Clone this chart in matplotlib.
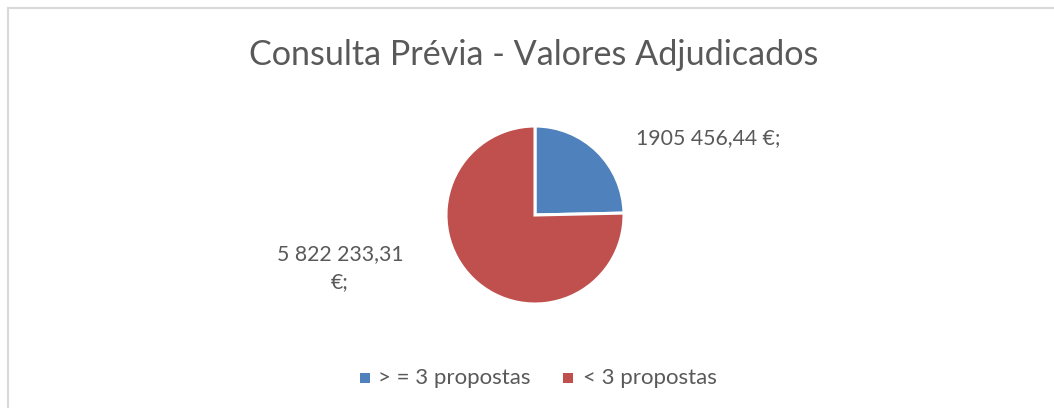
import matplotlib
matplotlib.use("Agg")
import matplotlib.pyplot as plt
from matplotlib.lines import Line2D
from matplotlib.patches import Rectangle

plt.rcParams['font.family'] = ['Lato', 'DejaVu Sans']

title = "Consulta Prévia - Valores Adjudicados"
categories = ["> = 3 propostas", "< 3 propostas"]
values = [1905456.44, 5822233.31]
value_labels = ["1905 456,44 €;", "5 822 233,31\n€;"]
colors = ["#4F81BD", "#C0504D"]
text_color = "#595959"

W, H = 1054, 408
fig = plt.figure(figsize=(W / 100, H / 100), dpi=100)

# chart border (only top and left visible)
fig.add_artist(Line2D([7.5 / W, 7.5 / W], [0, 1 - 8 / H], transform=fig.transFigure, color="#D9D9D9", lw=1.5))
fig.add_artist(Line2D([7.5 / W, 1], [1 - 8 / H, 1 - 8 / H], transform=fig.transFigure, color="#D9D9D9", lw=1.5))

cx, cy, r = 535, 215, 89
ax = fig.add_axes([(cx - r) / W, (H - cy - r) / H, 2 * r / W, 2 * r / H])
ax.pie(values, colors=colors, startangle=90, counterclock=False,
       wedgeprops=dict(edgecolor="white", linewidth=2.2))
ax.set_xlim(-1, 1)
ax.set_ylim(-1, 1)
ax.set_aspect("equal")
ax.axis("off")

fig.text(534 / W, 1 - 55 / H, title, ha="center", va="center", fontsize=24.6, color=text_color)

fig.text(708 / W, 1 - 138 / H, value_labels[0], ha="center", va="center", fontsize=15.3, color=text_color)
fig.text(340 / W, 1 - 268 / H, value_labels[1], ha="center", va="center", fontsize=15.3,
         color=text_color, linespacing=1.45)

# legend
leg_y = 1 - 378 / H
sq = 10
for xs, xt, lab, col in [(365, 378, categories[0], colors[0]), (568, 583, categories[1], colors[1])]:
    fig.add_artist(Rectangle(((xs - sq / 2) / W, leg_y - sq / 2 / H), sq / W, sq / H,
                             transform=fig.transFigure, facecolor=col, edgecolor="none"))
    fig.text(xt / W, leg_y, lab, ha="left", va="center", fontsize=16, color=text_color)

fig.savefig("out.png", dpi=100, facecolor="white")
